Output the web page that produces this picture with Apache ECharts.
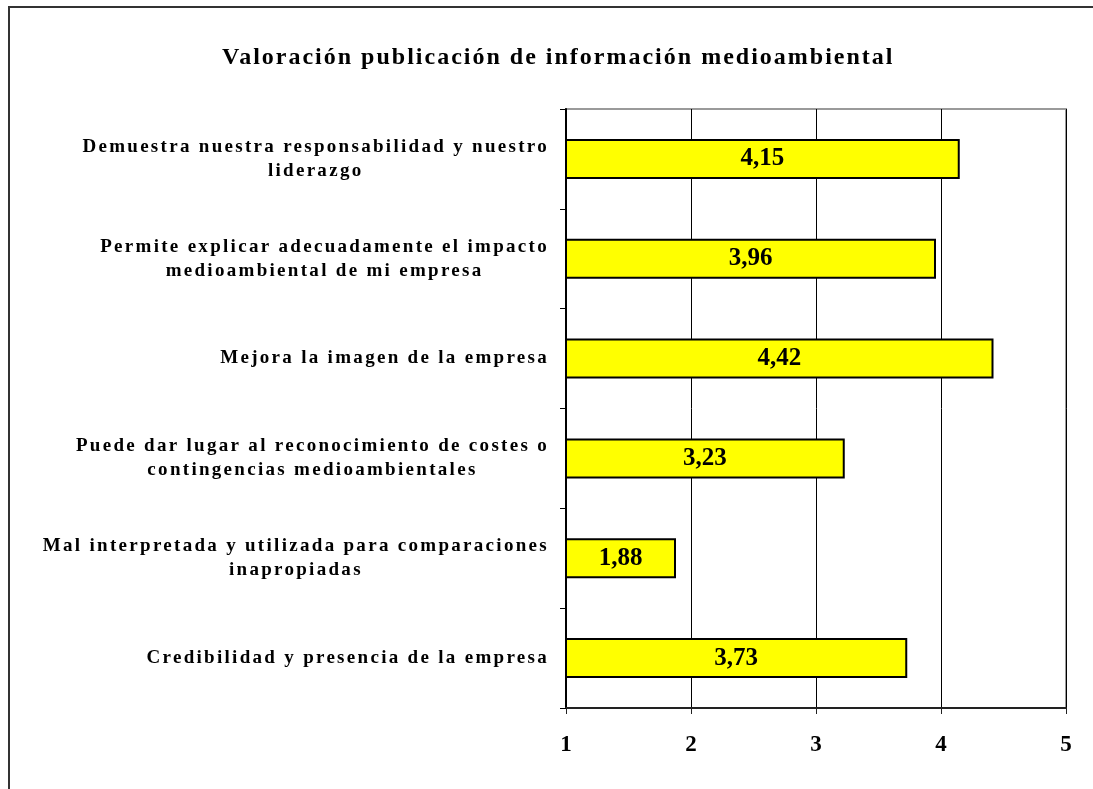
<!DOCTYPE html>
<html>
<head>
<meta charset="utf-8">
<script src="https://cdn.jsdelivr.net/npm/echarts@6/dist/echarts.min.js"></script>
<style>
    html, body { margin: 0; padding: 0; background: #fff; }
    #chart { width: 1093px; height: 789px; }
</style>
</head>
<body>
<div id="chart"></div>
<script>
const categories = [
    'Demuestra nuestra responsabilidad y nuestro\nliderazgo',
    'Permite explicar adecuadamente el impacto\nmedioambiental de mi empresa',
    'Mejora la imagen de la empresa',
    'Puede dar lugar al reconocimiento de costes o\ncontingencias medioambientales',
    'Mal interpretada y utilizada para comparaciones\ninapropiadas',
    'Credibilidad y presencia de la empresa'
]
const values = [4.15, 3.96, 4.42, 3.23, 1.88, 3.73]
const axisMin = 1
const axisMax = 5

// the original labels are spaced out; canvas text has letterSpacing, echarts has not,
// so add it by font size both when measuring and when drawing
const spacingBySize = { '19px': 2.3, '24px': 2 }
function spacingFor (font) {
    for (const k in spacingBySize) {
        if (font && font.indexOf(k) >= 0) return spacingBySize[k] + 'px'
    }
    return '0px'
}
const measureCtx = document.createElement('canvas').getContext('2d')
echarts.setPlatformAPI({
    measureText: function (text, font) {
        measureCtx.font = font || '12px sans-serif'
        measureCtx.letterSpacing = spacingFor(font)
        return measureCtx.measureText(text)
    }
})
const origFillText = CanvasRenderingContext2D.prototype.fillText
CanvasRenderingContext2D.prototype.fillText = function (t, x, y, m) {
    this.letterSpacing = spacingFor(this.font)
    return m === undefined ? origFillText.call(this, t, x, y) : origFillText.call(this, t, x, y, m)
}

const serif = 'Liberation Serif'
let myChart = echarts.init(document.getElementById('chart'))
myChart.setOption({
    animation: false,
    title: {
        text: 'Valoración publicación de información medioambiental',
        left: 217,
        top: 40,
        textStyle: {
            fontFamily: serif,
            fontWeight: 'bold',
            fontSize: 24,
            color: '#000'
        }
    },
    graphic: [
        {
            type: 'rect',
            shape: { x: 9, y: 7, width: 1200, height: 900 },
            style: { fill: 'none', stroke: '#333', lineWidth: 2 },
            silent: true
        }
    ],
    grid: {
        left: 566,
        top: 109,
        width: 500,
        height: 599,
        show: true,
        borderColor: '#9a9a9a',
        borderWidth: 2
    },
    xAxis: {
        type: 'value',
        min: axisMin,
        max: axisMax,
        interval: 1,
        axisLine: { show: true, lineStyle: { color: '#222', width: 2 } },
        axisTick: { show: true, length: 6, lineStyle: { color: '#222', width: 1 } },
        splitLine: { show: true, lineStyle: { color: '#000', width: 1 } },
        axisLabel: {
            margin: 26,
            fontFamily: serif,
            fontWeight: 'bold',
            fontSize: 23,
            color: '#000'
        }
    },
    yAxis: {
        type: 'category',
        inverse: true,
        data: categories,
        axisLine: { show: true, lineStyle: { color: '#000', width: 2 } },
        axisTick: { show: true, length: 6, lineStyle: { color: '#000', width: 1 } },
        axisLabel: {
            margin: 17,
            interval: 0,
            formatter: function (v) {
                return v.split('\n').map(s => '{c|' + s + '}').join('\n')
            },
            rich: {
                c: {
                    fontFamily: serif,
                    fontWeight: 'bold',
                    fontSize: 19,
                    lineHeight: 24,
                    align: 'center',
                    color: '#000'
                }
            }
        }
    },
    series: [
        {
            type: 'bar',
            data: values,
            barWidth: 40,
            itemStyle: {
                color: '#ffff00',
                borderColor: '#000',
                borderWidth: 2
            },
            label: {
                show: true,
                position: 'inside',
                formatter: function (p) {
                    return p.value.toFixed(2).replace('.', ',')
                },
                fontFamily: serif,
                fontWeight: 'bold',
                fontSize: 25,
                color: '#000'
            }
        }
    ]
})
</script>
</body>
</html>
